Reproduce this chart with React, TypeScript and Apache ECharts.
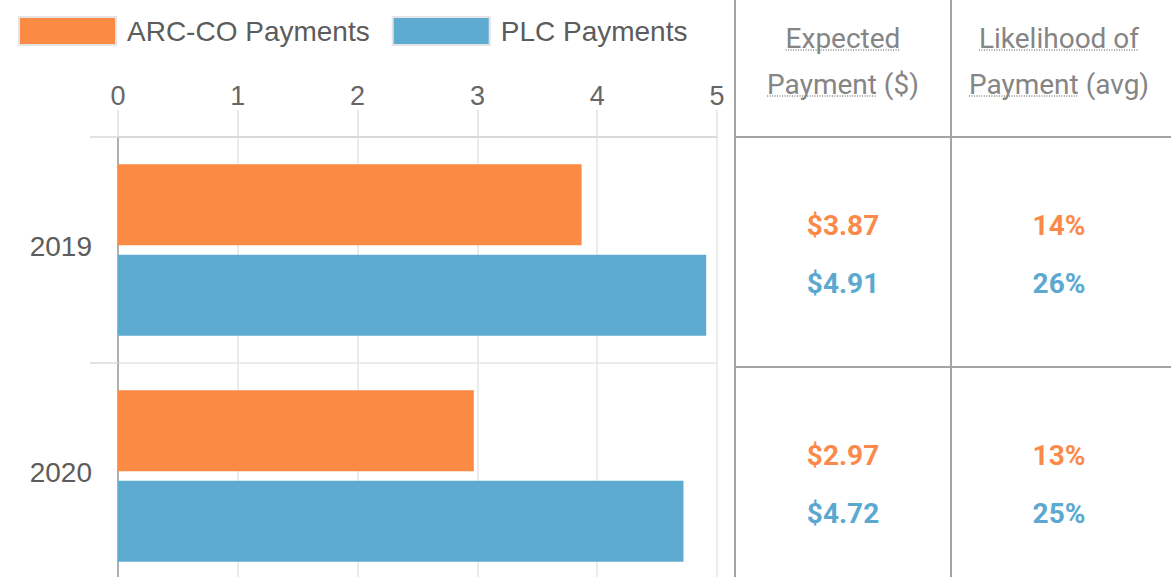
import React, { useEffect, useRef } from "react";
import * as echarts from "echarts";

const categories = ["2019", "2020"];
const arcPayments = [3.87, 2.97];
const plcPayments = [4.91, 4.72];
const arcLikelihood = [14, 13];
const plcLikelihood = [26, 25];
const seriesNames = ["ARC-CO Payments", "PLC Payments"];
const headerCol1 = ["Expected", "Payment ($)"];
const headerCol2 = ["Likelihood of", "Payment (avg)"];
const axisMin = 0;
const axisMax = 5;
const axisStep = 1;

const ORANGE = "#fb8a44";
const BLUE = "#5eabd2";
const ORANGE_TXT = "#fb8a4a";
const BLUE_TXT = "#5ba8d0";

function measure(text: string, font: string): number {
  const c = document.createElement("canvas");
  const ctx = c.getContext("2d");
  if (!ctx) return text.length * 14;
  ctx.font = font;
  return ctx.measureText(text).width;
}

export default function App() {
  const ref = useRef<HTMLDivElement>(null);
  useEffect(() => {
    if (!ref.current) return;
    const chart = echarts.init(ref.current, undefined, { renderer: "svg" });

    const tableLeft = 735;
    const tableMid = 951;
    const tableRight = 1171;
    const headerBottom = 137;
    const rowH = 230;
    const col1 = (tableLeft + tableMid) / 2;
    const col2 = (tableMid + 1167) / 2;
    const headFont = "28px Roboto";
    const headColor = "#858585";

    const graphics: any[] = [];
    const lineStyle = { stroke: "#a4a4a4", lineWidth: 2 };
    graphics.push({ type: "line", shape: { x1: tableLeft, y1: 0, x2: tableLeft, y2: 620 }, style: lineStyle, silent: true });
    graphics.push({ type: "line", shape: { x1: tableMid, y1: 0, x2: tableMid, y2: 620 }, style: lineStyle, silent: true });
    graphics.push({ type: "line", shape: { x1: tableLeft, y1: headerBottom, x2: tableRight, y2: headerBottom }, style: lineStyle, silent: true });
    graphics.push({ type: "line", shape: { x1: tableLeft, y1: headerBottom + rowH, x2: tableRight, y2: headerBottom + rowH }, style: lineStyle, silent: true });

    const headerYs = [38, 84];
    const addHeader = (lines: string[], cx: number) => {
      lines.forEach((t, i) => {
        graphics.push({
          type: "text",
          x: cx,
          y: headerYs[i],
          style: { text: t, fontFamily: "Roboto", fontSize: 28, fill: headColor, align: "center", verticalAlign: "middle" },
          silent: true,
        });
        const full = measure(t, headFont);
        const word = t.indexOf("(") > 0 ? t.slice(0, t.indexOf("(")).trimEnd() : t;
        const w = measure(word, headFont);
        const x0 = cx - full / 2;
        graphics.push({
          type: "line",
          shape: { x1: x0, y1: headerYs[i] + 12, x2: x0 + w, y2: headerYs[i] + 12 },
          style: { stroke: "#8a8a8a", lineWidth: 1.5, lineDash: [1, 1.5] },
          silent: true,
        });
      });
    };
    addHeader(headerCol1, col1);
    addHeader(headerCol2, col2);

    categories.forEach((_, i) => {
      const cy = headerBottom + rowH * i + rowH / 2;
      const rows = [
        { y: cy - 27, a: "$" + arcPayments[i].toFixed(2), b: arcLikelihood[i] + "%", c: ORANGE_TXT },
        { y: cy + 31, a: "$" + plcPayments[i].toFixed(2), b: plcLikelihood[i] + "%", c: BLUE_TXT },
      ];
      rows.forEach((r) => {
        graphics.push({
          type: "text", x: col1, y: r.y,
          style: { text: r.a, fontFamily: "Roboto", fontWeight: "bold", fontSize: 28, fill: r.c, align: "center", verticalAlign: "middle" },
          silent: true,
        });
        graphics.push({
          type: "text", x: col2, y: r.y,
          style: { text: r.b, fontFamily: "Roboto", fontWeight: "bold", fontSize: 28, fill: r.c, align: "center", verticalAlign: "middle" },
          silent: true,
        });
      });
    });

    chart.setOption({
      animation: false,
      backgroundColor: "#ffffff",
      legend: {
        left: 13,
        top: 11,
        itemWidth: 97,
        itemHeight: 28,
        itemGap: 22,
        icon: "rect",
        data: seriesNames,
        itemStyle: { borderColor: "#e4e4e4", borderWidth: 2 },
        textStyle: { fontFamily: "Liberation Sans", fontSize: 28, color: "#5c5c5c", padding: [0, 0, 0, 6] },
      },
      grid: { left: 118, right: 454, top: 137, bottom: 31, containLabel: false },
      xAxis: {
        type: "value",
        position: "top",
        min: axisMin,
        max: axisMax,
        interval: axisStep,
        axisLine: { show: true, lineStyle: { color: "#d2d2d2", width: 1.5 } },
        axisTick: { show: true, length: 27, lineStyle: { color: "#e0e0e0", width: 1.5 } },
        splitLine: { show: true, lineStyle: { color: "#e6e6e6", width: 1.5 } },
        axisLabel: { fontFamily: "Liberation Sans", fontSize: 27, color: "#666666", margin: 28 },
      },
      yAxis: {
        type: "category",
        inverse: true,
        data: categories,
        axisLine: { show: true, lineStyle: { color: "#b0b0b0", width: 2 } },
        axisTick: { show: true, length: 28, lineStyle: { color: "#dadada", width: 1.5 } },
        splitLine: { show: true, lineStyle: { color: "#e6e6e6", width: 1.5 } },
        axisLabel: { fontFamily: "Liberation Sans", fontSize: 28, color: "#5c5c5c", margin: 26, verticalAlign: "bottom", lineHeight: 8 },
      },
      series: [
        { name: seriesNames[0], type: "bar", data: arcPayments, barWidth: 81, barGap: "12%", itemStyle: { color: ORANGE } },
        { name: seriesNames[1], type: "bar", data: plcPayments, barWidth: 81, barGap: "12%", itemStyle: { color: BLUE } },
      ],
      graphic: graphics,
    });
    return () => chart.dispose();
  }, []);
  return (
    <div style={{ position: "absolute", left: 0, top: 0, width: 1171, height: 577, overflow: "hidden", background: "#fff" }}>
      <div ref={ref} style={{ width: 1171, height: 620 }} />
    </div>
  );
}
